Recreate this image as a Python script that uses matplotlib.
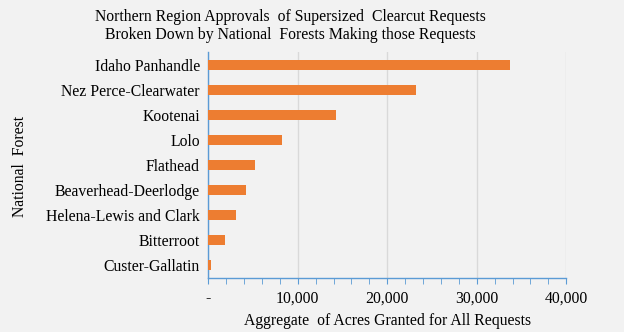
import matplotlib
matplotlib.use("Agg")
import matplotlib.pyplot as plt
from matplotlib.ticker import FuncFormatter, MultipleLocator

forests = ["Idaho Panhandle", "Nez Perce-Clearwater", "Kootenai", "Lolo", "Flathead",
           "Beaverhead-Deerlodge", "Helena-Lewis and Clark", "Bitterroot", "Custer-Gallatin"]
acres = [33700, 23200, 14250, 8200, 5200, 4200, 3100, 1850, 300]

BG = "#F2F2F2"
BLUE = "#5B9BD5"
ORANGE = "#ED7D31"
FS = 11.3

plt.rcParams["font.family"] = ["Liberation Serif", "DejaVu Serif"]

fig = plt.figure(figsize=(6.24, 3.32), dpi=100, facecolor=BG)
ax = fig.add_axes([0.3338, 0.1627, 0.5737, 0.6807], facecolor=BG)

ypos = list(range(len(forests)))[::-1]
ax.barh(ypos, acres, height=0.4, color=ORANGE, zorder=3)
ax.set_yticks(ypos)
ax.set_yticklabels(forests, fontsize=FS)
ax.set_ylim(-0.5, len(forests) - 0.5)

ax.set_xlim(0, 40000)
ax.xaxis.set_major_locator(MultipleLocator(10000))
ax.xaxis.set_minor_locator(MultipleLocator(2000))
ax.xaxis.set_major_formatter(FuncFormatter(lambda v, p: "-" if v == 0 else f"{int(v):,}"))
ax.tick_params(axis="x", which="both", length=4, color=BLUE, labelsize=FS, pad=5)
ax.tick_params(axis="y", length=0, pad=6)
ax.grid(axis="x", color="#D9D9D9", linewidth=1, zorder=0)

for s in ["top", "right"]:
    ax.spines[s].set_visible(False)
for s in ["left", "bottom"]:
    ax.spines[s].set_color(BLUE)
    ax.spines[s].set_linewidth(1)

ax.set_xlabel("Aggregate  of Acres Granted for All Requests", fontsize=FS, labelpad=5)
fig.text(0.032, 0.5, "National  Forest", rotation=90, ha="center", va="center", fontsize=FS)
fig.text(0.465, 0.921, "Northern Region Approvals  of Supersized  Clearcut Requests\n"
         "Broken Down by National  Forests Making those Requests",
         ha="center", va="center", fontsize=FS, linespacing=1.15)

fig.savefig("out.png", dpi=100, facecolor=BG)
